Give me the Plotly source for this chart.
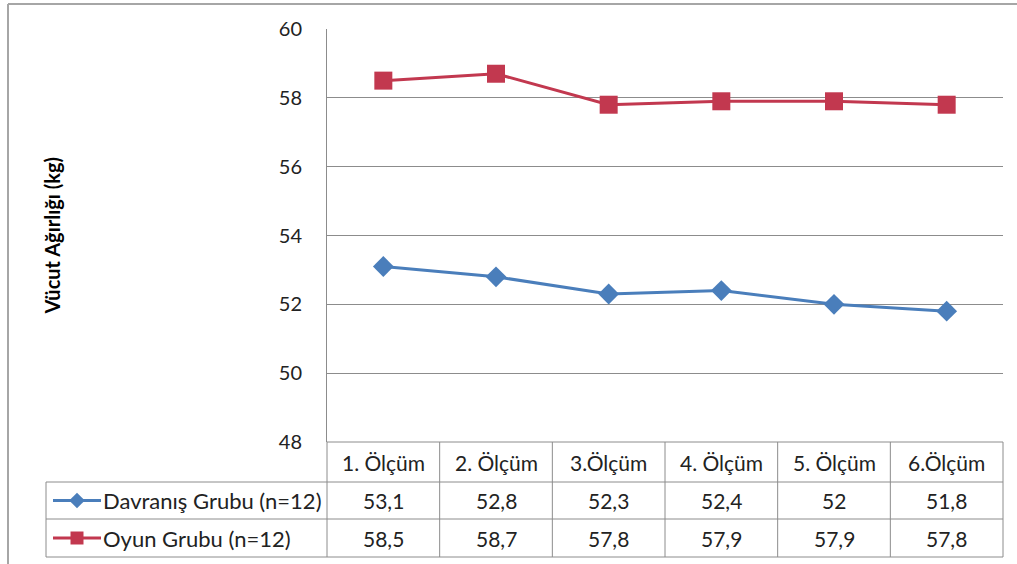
import plotly.graph_objects as go

# Measurement occasions and group means (body weight, kg)
olcumler = ["1. Ölçüm", "2. Ölçüm", "3.Ölçüm", "4. Ölçüm", "5. Ölçüm", "6.Ölçüm"]
davranis = [53.1, 52.8, 52.3, 52.4, 52.0, 51.8]
oyun = [58.5, 58.7, 57.8, 57.9, 57.9, 57.8]
davranis_etiket = ["53,1", "52,8", "52,3", "52,4", "52", "51,8"]
oyun_etiket = ["58,5", "58,7", "57,8", "57,9", "57,9", "57,8"]
seri_adlari = ["Davranış Grubu (n=12)", "Oyun Grubu (n=12)"]
y_ticks = [48, 50, 52, 54, 56, 58, 60]

W, H = 1017, 564
BLUE = "#4A7EBB"
RED = "#C2384F"
GRID = "#8C8C8C"
FONT = "Lato"


def px(x):
    return x / W


def py(y):
    return 1 - y / H


# Pixel layout of plot area and data table
PL, PR, PT, PB = 327, 1003, 29, 442
ROW1, ROW2, ROW3 = 482, 519, 557
LBL_L = 46

xs = list(range(len(olcumler)))

fig = go.Figure()
fig.add_trace(go.Scatter(
    x=xs, y=davranis, mode="lines+markers", name=seri_adlari[0],
    line=dict(color=BLUE, width=3),
    marker=dict(symbol="diamond", size=16, color=BLUE),
))
fig.add_trace(go.Scatter(
    x=xs, y=oyun, mode="lines+markers", name=seri_adlari[1],
    line=dict(color=RED, width=3),
    marker=dict(symbol="square", size=18, color=RED),
))

shapes = []
# chart border (left and top)
shapes.append(dict(type="line", xref="paper", yref="paper", x0=px(8), x1=px(8),
                   y0=py(4), y1=py(H), line=dict(color="#A6A6A6", width=2)))
shapes.append(dict(type="line", xref="paper", yref="paper", x0=px(8), x1=px(W),
                   y0=py(4), y1=py(4), line=dict(color="#A6A6A6", width=2)))


# data table grid
def hline(x0, x1, y):
    shapes.append(dict(type="line", xref="paper", yref="paper", x0=px(x0), x1=px(x1),
                       y0=py(y), y1=py(y), line=dict(color=GRID, width=1)))


def vline(x, y0, y1):
    shapes.append(dict(type="line", xref="paper", yref="paper", x0=px(x), x1=px(x),
                       y0=py(y0), y1=py(y1), line=dict(color=GRID, width=1)))


hline(PL, PR, PB)
hline(LBL_L, PR, ROW1)
hline(LBL_L, PR, ROW2)
hline(LBL_L, PR, ROW3)
vline(LBL_L, ROW1, ROW3)
vline(PL, PB, ROW3)
col_w = (PR - PL) / len(olcumler)
for i in range(1, len(olcumler) + 1):
    vline(PL + i * col_w, PB, ROW3)

annotations = []
tfont = dict(family=FONT, size=21, color="#222222")
for i, lab in enumerate(olcumler):
    for yy, txt in [((PB + ROW1) / 2, lab),
                    ((ROW1 + ROW2) / 2, davranis_etiket[i]),
                    ((ROW2 + ROW3) / 2, oyun_etiket[i])]:
        annotations.append(dict(x=i, y=py(yy), xref="x", yref="paper",
                                xanchor="center", yanchor="middle",
                                text=txt, showarrow=False, font=tfont))

# legend keys inside the table's row labels
lfont = dict(family=FONT, size=22, color="#222222")
for (yy, col, name) in [((ROW1 + ROW2) / 2, BLUE, seri_adlari[0]),
                        ((ROW2 + ROW3) / 2, RED, seri_adlari[1])]:
    shapes.append(dict(type="line", xref="paper", yref="paper", x0=px(53), x1=px(101),
                       y0=py(yy), y1=py(yy), line=dict(color=col, width=3)))
    annotations.append(dict(x=px(101), y=py(yy), xref="paper", yref="paper",
                            xanchor="left", yanchor="middle", text=name,
                            showarrow=False, font=lfont))

fig.add_trace(go.Scatter(
    x=[px(77)], y=[py((ROW1 + ROW2) / 2)], xaxis="x2", yaxis="y2", mode="markers",
    marker=dict(symbol="diamond", size=12, color=BLUE), showlegend=False, hoverinfo="skip"))
fig.add_trace(go.Scatter(
    x=[px(77)], y=[py((ROW2 + ROW3) / 2)], xaxis="x2", yaxis="y2", mode="markers",
    marker=dict(symbol="square", size=13, color=RED), showlegend=False, hoverinfo="skip"))

annotations.append(dict(x=px(51), y=py((PT + PB) / 2), xref="paper", yref="paper",
                        xanchor="center", yanchor="middle",
                        text="<b>Vücut Ağırlığı (kg)</b>", textangle=-90, showarrow=False,
                        font=dict(family=FONT, size=20, color="#000000")))

fig.update_layout(
    width=W, height=H, autosize=False,
    margin=dict(l=0, r=0, t=0, b=0, pad=0, autoexpand=False),
    paper_bgcolor="white", plot_bgcolor="rgba(0,0,0,0)",
    showlegend=False,
    xaxis=dict(domain=[px(PL), px(PR)], range=[-0.5, len(olcumler) - 0.5], automargin=False,
               showgrid=False, zeroline=False, showticklabels=False, showline=False),
    yaxis=dict(domain=[py(PB), py(PT)], range=[48, 60], tickvals=y_ticks, automargin=False,
               showgrid=True, gridcolor=GRID, gridwidth=1, zeroline=False,
               showline=True, linecolor=GRID, linewidth=1, ticks="",
               ticklabelstandoff=20,
               tickfont=dict(family=FONT, size=20, color="#222222")),
    xaxis2=dict(domain=[0, 1], range=[0, 1], visible=False, fixedrange=True,
                anchor="y2", automargin=False),
    yaxis2=dict(domain=[0, 1], range=[0, 1], visible=False, fixedrange=True,
                anchor="x2", automargin=False),
    shapes=shapes,
    annotations=annotations,
)

fig.write_html("out.html")
